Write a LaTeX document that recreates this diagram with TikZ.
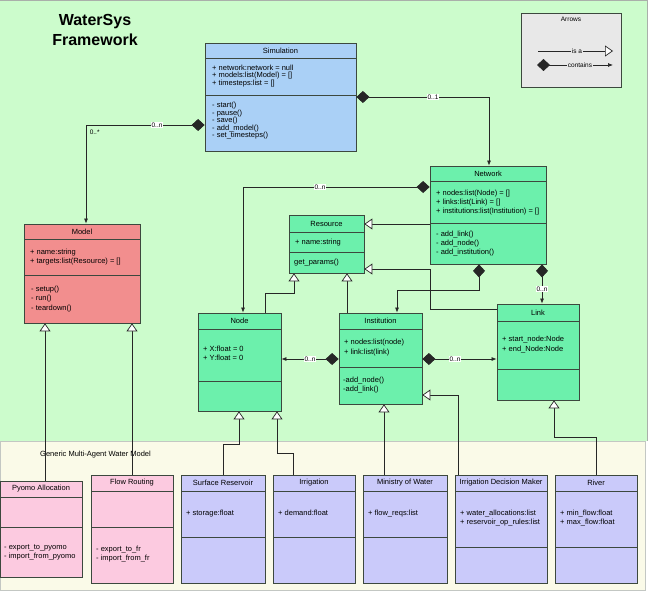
\documentclass[tikz,border=0pt]{standalone}
\usepackage{fontspec}
\setmainfont{Liberation Sans}
\usetikzlibrary{arrows.meta,fit}
\definecolor{bggreen}{RGB}{204,252,204}
\definecolor{simblue}{RGB}{170,208,246}
\definecolor{aquabox}{RGB}{108,240,172}
\definecolor{modelred}{RGB}{242,142,142}
\definecolor{pinkbox}{RGB}{252,202,224}
\definecolor{lavbox}{RGB}{202,202,250}
\definecolor{legendgrey}{RGB}{232,232,232}
\definecolor{beigebg}{RGB}{250,250,232}
\definecolor{edgec}{RGB}{60,72,62}
\definecolor{frameg}{RGB}{170,175,170}
\tikzset{
  classbox/.style={draw=edgec, line width=0.8pt, inner sep=0pt},
  classline/.style={draw=edgec, line width=0.8pt},
  titletext/.style={font=\fontsize{7.5}{9}\selectfont, inner sep=0pt},
  linetext/.style={anchor=base west, font=\fontsize{7.5}{9}\selectfont, inner sep=0pt},
  lbl/.style={font=\fontsize{6.5}{7}\selectfont, fill=white, inner sep=0.6pt},
  contains/.style={draw=black!85, line width=0.7pt, {Diamond[length=13pt,width=12pt]}-{Latex[length=5pt,width=4pt]}},
  isa/.style={draw=black!85, line width=0.7pt, -{Triangle[open,length=8pt,width=11pt,fill=white]}},
}
\newcommand\umlclass[9]{%
  \node[classbox, fill=#8, fit={(#2,#3) (#4,#5)}] (#1) {};
  \draw[classline] (#2,#6) -- (#4,#6);
  \draw[classline] (#2,#7) -- (#4,#7);
  \node[titletext] (#1-title) at ({(#2+#4)/2},{(#3+#6)/2}) {#9};
}
\newcommand\umllines[5]{%
  \foreach \t [count=\i] in {#5} {\node[linetext] (#1-\i) at (#2,{#3+(\i-1)*#4}) {\t};}
}
\begin{document}
\begin{tikzpicture}[x=1pt,y=-1pt]
\useasboundingbox (0,0) rectangle (650,591);
% backgrounds
\fill[bggreen] (0,0) rectangle (647,441);
\draw[frameg, line width=1pt] (0,1) -- (647,1) -- (647,441);
\draw[fill=beigebg, draw=frameg!70, line width=0.8pt] (0,441) rectangle (645,590);
% title
\node[font=\bfseries\fontsize{16}{20}\selectfont, align=center] (title) at (95,30) {WaterSys\\Framework};
% legend
\node[fit={(521,13) (621,87)}, inner sep=0pt, draw=edgec, line width=0.8pt, fill=legendgrey] (legend) {};
\node[titletext, font=\fontsize{6.5}{8}\selectfont] (legend-title) at (571,19) {Arrows};
\coordinate (isa-a) at (538,51);
\coordinate (isa-b) at (613,51);
\coordinate (con-a) at (537,65);
\coordinate (con-b) at (613,65);
\draw[isa] (isa-a) -- (isa-b);
\draw[contains] (con-a) -- (con-b);
\node[lbl, fill=legendgrey] (isa-l) at (577,51) {is a};
\node[lbl, fill=legendgrey] (con-l) at (580,65) {contains};
% classes
\umlclass{sim}{205}{43}{356}{151}{58}{95}{simblue}{Simulation}
\umllines{simA}{212}{70.5}{7.5}{{+ network:network = null},{+ models:list(Model) = []},{+ timesteps:list = []}}
\umllines{simM}{212}{108}{7.5}{{- start()},{- pause()},{- save()},{- add\_model()},{- set\_timesteps()}}
\umlclass{net}{430}{166}{546}{264}{181}{223}{aquabox}{Network}
\umllines{netA}{436}{195.5}{9}{{+ nodes:list(Node) = []},{+ links:list(Link) = []},{+ institutions:list(Institution) = []}}
\umllines{netM}{436}{236.5}{8.8}{{- add\_link()},{- add\_node()},{- add\_institution()}}
\umlclass{model}{24}{224}{140}{323}{239}{275}{modelred}{Model}
\umllines{modelA}{30}{254.2}{9.3}{{+ name:string},{+ targets:list(Resource) = []}}
\umllines{modelM}{31}{291.5}{9.3}{{- setup()},{- run()},{- teardown()}}
\umlclass{res}{289}{215}{364}{273}{232}{252}{aquabox}{Resource}
\umllines{resA}{295}{244.5}{9}{{+ name:string}}
\umllines{resM}{294}{264.5}{9}{{get\_params()}}
\umlclass{node}{198}{313}{281}{411}{329}{381}{aquabox}{Node}
\umllines{nodeA}{203}{351.8}{9}{{+ X:float = 0},{+ Y:float = 0}}
\umlclass{inst}{339}{313}{422}{404}{329}{367}{aquabox}{Institution}
\umllines{instA}{344}{344.8}{9.3}{{+ nodes:list(node)},{+ link:list(link)}}
\umllines{instM}{343}{382.5}{9.3}{{-add\_node()},{-add\_link()}}
\umlclass{link}{497}{304}{579}{400}{321}{369}{aquabox}{Link}
\umllines{linkA}{502}{341.8}{9.3}{{+ start\_node:Node},{+ end\_Node:Node}}
% bottom classes
\node[linetext, anchor=west] (gmawm) at (40,455) {Generic Multi-Agent Water Model};
\umlclass{pyomo}{0}{481}{82}{577}{497}{527}{pinkbox}{Pyomo Allocation}
\umllines{pyomoM}{4}{549.8}{8.8}{{- export\_to\_pyomo},{- import\_from\_pyomo}}
\umlclass{flow}{91}{475}{173}{583}{491}{527}{pinkbox}{Flow Routing}
\umllines{flowM}{96}{551.8}{9}{{- export\_to\_fr},{- import\_from\_fr}}
\umlclass{sres}{181}{475}{265}{583}{491}{537}{lavbox}{Surface Reservoir}
\umllines{sresA}{186}{515.5}{9}{{+ storage:float}}
\umlclass{irr}{273}{475}{355}{583}{491}{537}{lavbox}{Irrigation}
\umllines{irrA}{278}{515.5}{9}{{+ demand:float}}
\umlclass{mow}{363}{475}{447}{583}{491}{537}{lavbox}{Ministry of Water}
\umllines{mowA}{368}{515.5}{9}{{+ flow\_reqs:list}}
\umlclass{idm}{455}{475}{547}{583}{491}{547}{lavbox}{Irrigation Decision Maker}
\umllines{idmA}{460}{515.5}{9.3}{{+ water\_allocations:list},{+ reservoir\_op\_rules:list}}
\umlclass{river}{555}{475}{637}{583}{491}{547}{lavbox}{River}
\umllines{riverA}{560}{515.5}{9.3}{{+ min\_flow:float},{+ max\_flow:float}}
% containment connectors
\draw[contains] (sim.west |- 0,125) -| (model.north -| 86,0);
\draw[contains] (sim.east |- 0,97) -| (net.north -| 489,0);
\draw[contains] (net.west |- 0,187) -| (node.north -| 243,0);
\draw[contains] (net.south -| 479,0) |- (397,290) -- (inst.north -| 397,0);
\draw[contains] (net.south -| 542,0) -- (link.north -| 542,0);
\draw[contains] (inst.west |- 0,359) -- (node.east |- 0,359);
\draw[contains] (inst.east |- 0,359) -- (link.west |- 0,359);
% inheritance connectors
\draw[isa] (node.north -| 265,0) |- (294,293) -- (res.south -| 294,0);
\draw[isa] (inst.north -| 347,0) -- (res.south -| 347,0);
\draw[isa] (net.west |- 0,224) -- (res.east |- 0,224);
\draw[isa] (link.west |- 0,309) -| (430,269) -- (res.east |- 0,269);
\draw[isa] (pyomo.north -| 45,0) -- (model.south -| 45,0);
\draw[isa] (flow.north -| 132,0) -- (model.south -| 132,0);
\draw[isa] (sres.north -| 223,0) |- (239,444) -- (node.south -| 239,0);
\draw[isa] (irr.north -| 293,0) |- (277,453) -- (node.south -| 277,0);
\draw[isa] (mow.north -| 384,0) -- (inst.south -| 384,0);
\draw[isa] (idm.north -| 458,0) |- (inst.east |- 0,395);
\draw[isa] (river.north -| 596,0) |- (554,437) -- (link.south -| 554,0);
% multiplicity labels
\node[lbl] (m1) at (157,125) {0..n};
\node[lbl, fill=none, anchor=north west] (m2) at (89,129) {0..*};
\node[lbl] (m3) at (433,97) {0..1};
\node[lbl] (m4) at (320,187) {0..n};
\node[lbl] (m5) at (542,289) {0..n};
\node[lbl] (m6) at (310,359) {0..n};
\node[lbl] (m7) at (455,359) {0..n};
\end{tikzpicture}
\end{document}
